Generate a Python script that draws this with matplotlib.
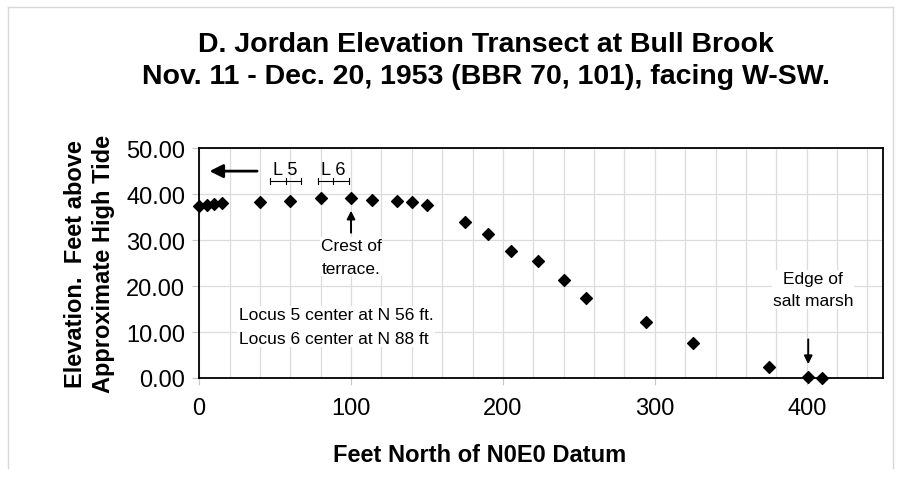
import matplotlib.pyplot as plt
from matplotlib.lines import Line2D

# transect points
feet_north = [0, 5, 10, 15, 40, 60, 80, 100, 114, 130, 140, 150,
              175, 190, 205, 223, 240, 255, 294, 325, 375, 401, 410]
elevation = [37.5, 37.6, 37.8, 38.0, 38.2, 38.6, 39.1, 39.1, 38.8, 38.4, 38.2, 37.7,
             33.9, 31.4, 27.7, 25.5, 21.3, 17.3, 12.2, 7.6, 2.3, 0.2, 0.0]

x_ticks = [0, 100, 200, 300, 400]
y_ticks = [0, 10, 20, 30, 40, 50]

plt.rcParams['font.family'] = ['Liberation Sans', 'DejaVu Sans']

fig = plt.figure(figsize=(8.97, 4.89), dpi=100)
ax = fig.add_axes([0.222, 0.225, 0.762, 0.470])

ax.scatter(feet_north, elevation, marker='D', s=36, color='black', zorder=5, clip_on=False)

ax.set_xlim(0, 450)
ax.set_ylim(0, 50)
ax.set_xticks(x_ticks)
ax.set_xticks(range(0, 451, 20), minor=True)
ax.set_yticks(y_ticks)
ax.set_yticklabels(["{:.2f}".format(v) for v in y_ticks])
ax.grid(which='both', axis='x', color='#dcdcdc', lw=0.9)
ax.grid(which='major', axis='y', color='#dcdcdc', lw=0.9)
ax.set_axisbelow(True)
ax.tick_params(which='major', direction='out', length=5, color='#c8c8c8', labelsize=17)
ax.tick_params(axis='x', pad=9)
ax.tick_params(axis='y', pad=5)
ax.tick_params(which='minor', length=0)
for s in ax.spines.values():
    s.set_color('black')
    s.set_linewidth(1.3)

ax.set_xlabel("Feet North of N0E0 Datum", fontsize=17, fontweight='bold')
ax.xaxis.set_label_coords(0.411, -0.283)
ax.set_ylabel("Elevation.  Feet above\nApproximate High Tide", fontsize=17,
              fontweight='bold', labelpad=8, linespacing=1.3)
fig.suptitle("D. Jordan Elevation Transect at Bull Brook\n"
             "Nov. 11 - Dec. 20, 1953 (BBR 70, 101), facing W-SW.",
             fontsize=20.5, fontweight='bold', x=0.542, y=0.935, linespacing=1.3)

# left arrow
ax.annotate("", xy=(5, 45), xytext=(40, 45),
            arrowprops=dict(arrowstyle='-|>', color='black', lw=2, mutation_scale=20))

# locus brackets
for (x0, xm, x1, lab) in [(46.5, 57, 67, "L 5"), (78, 88, 98.5, "L 6")]:
    ax.plot([x0, x1], [42.8, 42.8], color='black', lw=0.8)
    for xx in (x0, xm, x1):
        ax.plot([xx, xx], [42.2, 43.4], color='black', lw=0.8)
    ax.text((x0 + x1) / 2, 43.4, lab, ha='center', va='bottom', fontsize=13)

# crest
ax.annotate("", xy=(100, 37.0), xytext=(100, 31.0),
            arrowprops=dict(arrowstyle='-|>', color='black', lw=1.4, mutation_scale=12))
ax.text(100, 30.5, "Crest of\nterrace.", ha='center', va='top', fontsize=12.5,
        linespacing=1.65, bbox=dict(facecolor='white', edgecolor='none', pad=0.5))

# salt marsh
ax.annotate("", xy=(401, 2.4), xytext=(401, 9.0),
            arrowprops=dict(arrowstyle='-|>', color='black', lw=1.4, mutation_scale=12))
ax.text(404, 19.3, "Edge of\nsalt marsh", ha='center', va='center', fontsize=12.5,
        linespacing=1.6, bbox=dict(facecolor='white', edgecolor='none', pad=0.5))

ax.text(26, 11.2, "Locus 5 center at N 56 ft.\nLocus 6 center at N 88 ft",
        ha='left', va='center', fontsize=12.5, linespacing=1.7,
        bbox=dict(facecolor='white', edgecolor='none', pad=1))

# light frame round the chart area
for xs, ys in [([0.009, 0.009], [0.04, 0.983]), ([0.009, 0.995], [0.983, 0.983]),
               ([0.995, 0.995], [0.04, 0.983])]:
    fig.add_artist(Line2D(xs, ys, transform=fig.transFigure, color='#d8d8d8', lw=1))

fig.savefig("out.png", dpi=100)
